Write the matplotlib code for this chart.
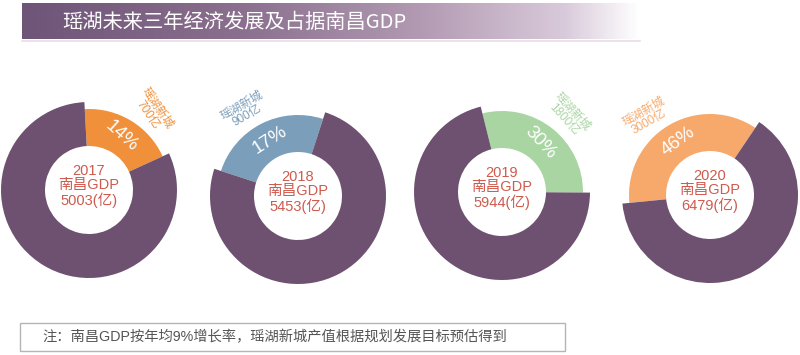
import matplotlib
matplotlib.use('Agg')
import matplotlib.pyplot as plt
import numpy as np
from matplotlib.colors import LinearSegmentedColormap
from matplotlib.patches import Rectangle

plt.rcParams['font.family'] = ['Liberation Sans', 'Noto Sans CJK SC', 'DejaVu Sans']

# ---------------- data ----------------
title = '瑶湖未来三年经济发展及占据南昌GDP'
years = ['2017', '2018', '2019', '2020']
nanchang_gdp = [5003, 5453, 5944, 6479]          # 南昌GDP (亿)
yaohu_value = [700, 900, 1800, 3000]             # 瑶湖新城 (亿)
pct_labels = ['14%', '17%', '30%', '46%']
# share of the ring covered by the 瑶湖新城 slice, as drawn in the reference (%)
slice_share = [19, 25, 29, 36]
note = '注：南昌GDP按年均9%增长率，瑶湖新城产值根据规划发展目标预估得到'

# ---------------- style / layout ----------------
W, H = 800, 355
centers_px = [(89, 190), (298, 196), (502, 192), (710, 195)]
start_angles = [93, 72, 104, 56]
counterclock = [False, True, False, True]
slice_colors = ['#F0903A', '#7B9EBA', '#A8D5A2', '#F6A96B']
ring_color = '#6E5170'
center_color = '#CF5A4E'
R_out, R_col, R_in = 88, 81, 44
pct_rot = [-42, 33, -47, 36]
lab_ang = [51, 122, 49, 129]
lab_rot = [-56, 30, -48, 30]

fig = plt.figure(figsize=(8, 3.55), dpi=100)
ax = fig.add_axes([0, 0, 1, 1])

# banner gradient
grad_cmap = LinearSegmentedColormap.from_list(
    'banner', [(0.0, '#6E5477'), (0.35, '#8A6F8E'), (0.65, '#B39BB3'),
               (0.88, '#D9CADB'), (1.0, '#FFFFFF')])
g = np.linspace(0, 1, 512).reshape(1, -1)
ax.imshow(g, cmap=grad_cmap, extent=[22, 640, H - 39, H - 3], aspect='auto',
          interpolation='bilinear', zorder=1)
ax.plot([22, 640], [H - 40.5, H - 40.5], color='#E6DEE6', lw=1.2, zorder=0.5)
ax.text(62, H - 22, title, color='white', fontsize=14.6, va='center', ha='left',
        family=['Noto Sans CJK SC', 'DejaVu Sans'], zorder=3)

for i in range(len(years)):
    cx, cy = centers_px[i][0], H - centers_px[i][1]
    share = slice_share[i]
    ax.pie([share, 100 - share], colors=[slice_colors[i], 'none'], radius=R_col,
           center=(cx, cy), startangle=start_angles[i], counterclock=counterclock[i],
           wedgeprops=dict(width=R_col - R_in, linewidth=0), frame=True)
    ax.pie([share, 100 - share], colors=['none', ring_color], radius=R_out,
           center=(cx, cy), startangle=start_angles[i], counterclock=counterclock[i],
           wedgeprops=dict(width=R_out - R_in, linewidth=0), frame=True)
    sign = 1 if counterclock[i] else -1
    mid = np.deg2rad(start_angles[i] + sign * share * 3.6 / 2)
    rp = (R_col + R_in) / 2
    ax.text(cx + rp * np.cos(mid), cy + rp * np.sin(mid), pct_labels[i],
            color='white', fontsize=13.5, ha='center', va='center',
            rotation=pct_rot[i], rotation_mode='anchor', zorder=5)
    la = np.deg2rad(lab_ang[i])
    rl = 101
    ax.text(cx + rl * np.cos(la), cy + rl * np.sin(la),
            f'瑶湖新城\n{yaohu_value[i]}亿', color=slice_colors[i], fontsize=8.5,
            ha='center', va='center', rotation=lab_rot[i], rotation_mode='anchor',
            linespacing=0.95, zorder=5)
    ax.text(cx, cy + 4, f'{years[i]}\n南昌GDP\n{nanchang_gdp[i]}(亿)',
            color=center_color, fontsize=10.5, ha='center', va='center',
            linespacing=1.02, zorder=5)

# note box
ax.add_patch(Rectangle((20, H - 351), 545, 28, facecolor='white',
                       edgecolor='#B5B5B5', lw=1.0, zorder=2))
ax.text(42, H - 337, note, color='#555555', fontsize=10.3, ha='left', va='center',
        zorder=3)

ax.set_xlim(0, W)
ax.set_ylim(0, H)
ax.set_aspect('auto')
ax.axis('off')
fig.savefig('out.png', dpi=100, facecolor='white')
